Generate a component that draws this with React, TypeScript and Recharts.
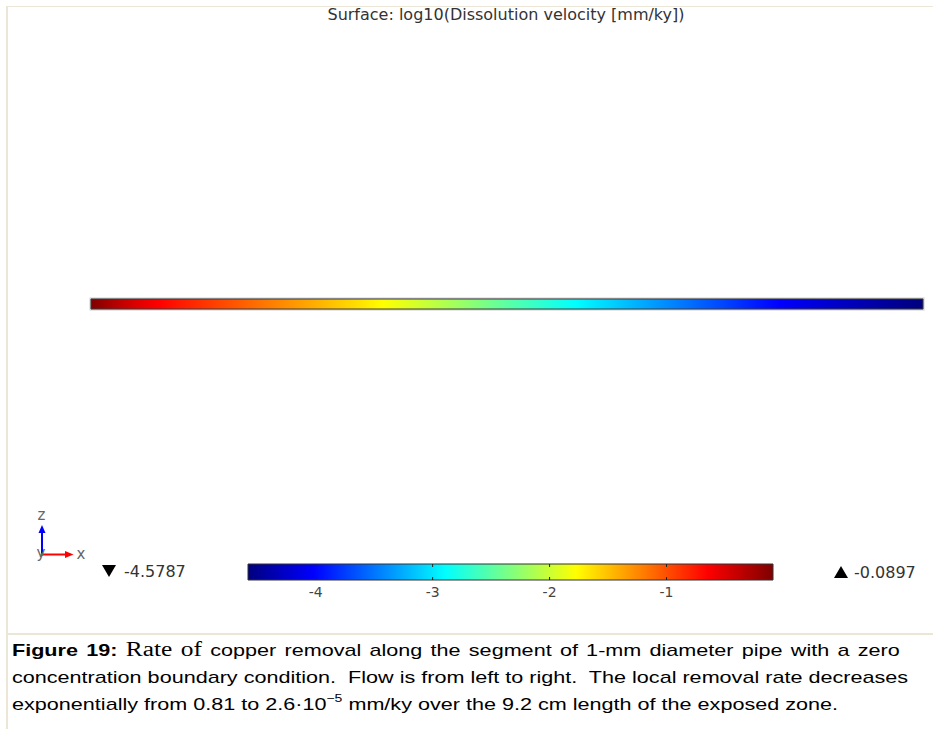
import React from 'react';
import { ComposedChart, Area, XAxis, YAxis, ReferenceArea, ReferenceLine } from 'recharts';

// position along the pipe [cm] and log10 of dissolution velocity [mm/ky]
const pipePos = [0, 0.25, 0.5, 0.75, 1, 1.5, 2, 2.5, 3, 3.5, 4, 4.5, 5, 5.5, 6, 6.5, 7, 7.5, 8, 8.5, 9, 9.2];
const pipeLogRate = [-0.0897, -0.31, -0.5, -0.65, -0.77, -0.99, -1.21, -1.43, -1.66, -1.91, -2.17, -2.44, -2.7, -2.97, -3.22, -3.47, -3.72, -3.97, -4.17, -4.35, -4.52, -4.5787];

// colour legend
const rangeMin = -4.5787;
const rangeMax = -0.0897;
const legendTicks = [-4, -3, -2, -1];

// jet colour table
const jetPos = [0, 0.125, 0.375, 0.625, 0.875, 1];
const jetColors = ['#00007f', '#0000ff', '#00ffff', '#ffff00', '#ff0000', '#7f0000'];

const titleText = 'Surface: log10(Dissolution velocity [mm/ky])';

const hexToRgb = (h: string) => [1, 3, 5].map((i) => parseInt(h.slice(i, i + 2), 16));

function jet(t: number) {
  const c = Math.max(0, Math.min(1, t));
  for (let i = 1; i < jetPos.length; i++) {
    if (c <= jetPos[i]) {
      const f = (c - jetPos[i - 1]) / (jetPos[i] - jetPos[i - 1]);
      const a = hexToRgb(jetColors[i - 1]);
      const b = hexToRgb(jetColors[i]);
      const rgb = a.map((v, k) => Math.round(v + (b[k] - v) * f));
      return `rgb(${rgb.join(',')})`;
    }
  }
  return jetColors[jetColors.length - 1];
}

const toT = (v: number) => (v - rangeMin) / (rangeMax - rangeMin);
const pipeLength = pipePos[pipePos.length - 1];

// gradient stops along the pipe: one per sample, plus one where each jet knee is crossed
function pipeStops() {
  const stops = pipePos.map((x, i) => ({ offset: x / pipeLength, color: jet(toT(pipeLogRate[i])) }));
  jetPos.forEach((t) => {
    const v = rangeMin + t * (rangeMax - rangeMin);
    for (let i = 1; i < pipePos.length; i++) {
      const a = pipeLogRate[i - 1];
      const b = pipeLogRate[i];
      if (v <= a && v > b) {
        const x = pipePos[i - 1] + ((a - v) / (a - b)) * (pipePos[i] - pipePos[i - 1]);
        stops.push({ offset: x / pipeLength, color: jet(t) });
      }
    }
  });
  return stops.sort((p, q) => p.offset - q.offset);
}

const pipeData = pipePos.map((x, i) => ({ x, v: pipeLogRate[i], band: [0, 1] }));
const legendData = [rangeMin, rangeMax].map((v) => ({ v, band: [0, 1] }));

const font = '"DejaVu Sans", sans-serif';

function Triad() {
  return (
    <g>
      <line x1={42} y1={555} x2={42} y2={532} stroke="#0000ff" strokeWidth={2} />
      <polygon points="38.5,533 45.5,533 42,525" fill="#0000ff" />
      <line x1={42} y1={554.5} x2={66} y2={554.5} stroke="#ff0000" strokeWidth={2} />
      <polygon points="65,551 65,558 73.5,554.5" fill="#ff0000" />
      <circle cx={42} cy={554.5} r={1.5} fill="#22aa22" />
      <text x={41.5} y={520} textAnchor="middle" fontSize={15} fill="#666" fontFamily={font}>z</text>
      <text x={41} y={558} textAnchor="middle" fontSize={15} fill="#666" fontFamily={font}>y</text>
      <text x={81} y={559} textAnchor="middle" fontSize={15} fill="#666" fontFamily={font}>x</text>
    </g>
  );
}

export default function App() {
  const stops = pipeStops();
  return (
    <div style={{ position: 'absolute', left: 0, top: 0, width: 933, height: 729, background: '#fff', overflow: 'hidden' }}>
      <svg width={933} height={729} style={{ position: 'absolute', left: 0, top: 0 }}>
        <rect x={7} y={6} width={926} height={1} fill="#ebe6d6" />
        <rect x={6} y={6} width={2} height={723} fill="#ebe6d6" />
        <rect x={6} y={633} width={927} height={2} fill="#ebe6d6" />
        <text x={506} y={20} textAnchor="middle" fontSize={16} fill="#333" fontFamily={font}>{titleText}</text>
        <Triad />
        <polygon points="102,565 116,565 109,577" fill="#000" />
        <text x={124} y={577} fontSize={16} fill="#333" fontFamily={font}>{rangeMin.toFixed(4)}</text>
        <polygon points="834,578 848,578 841,566" fill="#000" />
        <text x={854} y={578} fontSize={16} fill="#333" fontFamily={font}>{rangeMax.toFixed(4)}</text>
      </svg>

      <div style={{ position: 'absolute', left: 0, top: 285 }}>
        <ComposedChart width={933} height={40} data={pipeData} margin={{ top: 14, right: 10, bottom: 16, left: 91 }}>
          <defs>
            <linearGradient id="pipeGrad" x1="0" y1="0" x2="1" y2="0">
              {stops.map((s, i) => (
                <stop key={i} offset={s.offset} stopColor={s.color} />
              ))}
            </linearGradient>
          </defs>
          <XAxis hide type="number" dataKey="x" domain={[0, pipeLength]} />
          <YAxis hide type="number" domain={[0, 1]} />
          <ReferenceArea x1={0} x2={pipeLength} y1={0} y2={1} fill="none" stroke="#cfcfcf" strokeWidth={3} />
          <Area type="linear" dataKey="band" fill="url(#pipeGrad)" fillOpacity={1} stroke="none" dot={false} activeDot={false} isAnimationActive={false} />
          <ReferenceArea x1={0} x2={pipeLength} y1={0} y2={1} fill="none" stroke="#3a3a3a" strokeWidth={1} />
        </ComposedChart>
      </div>

      <div style={{ position: 'absolute', left: 0, top: 555 }}>
        <ComposedChart width={933} height={60} data={legendData} margin={{ top: 9, right: 160, bottom: 0, left: 248 }}>
          <defs>
            <linearGradient id="legendGrad" x1="0" y1="0" x2="1" y2="0">
              {jetPos.map((p, i) => (
                <stop key={i} offset={p} stopColor={jetColors[i]} />
              ))}
            </linearGradient>
          </defs>
          <XAxis
            type="number"
            dataKey="v"
            domain={[rangeMin, rangeMax]}
            ticks={legendTicks}
            height={35}
            axisLine={false}
            tickLine={false}
            tickMargin={1}
            tick={{ fontSize: 14, fill: '#444', fontFamily: font }}
          />
          <YAxis hide type="number" domain={[0, 1]} />
          <Area type="linear" dataKey="band" fill="url(#legendGrad)" fillOpacity={1} stroke="none" dot={false} activeDot={false} isAnimationActive={false} />
          {legendTicks.map((t) => (
            <ReferenceLine key={t} x={t} stroke="#222" strokeDasharray="3 10 3" />
          ))}
          <ReferenceArea x1={rangeMin} x2={rangeMax} y1={0} y2={1} fill="none" stroke="#333" strokeWidth={1} />
        </ComposedChart>
      </div>

      <div
        style={{
          position: 'absolute',
          left: 12,
          top: 636,
          fontFamily: '"Liberation Sans", Arial, sans-serif',
          fontSize: 17,
          lineHeight: '27px',
          color: '#000',
          whiteSpace: 'nowrap',
          transform: 'scaleX(1.27)',
          transformOrigin: '0 0',
        }}
      >
        <div style={{ width: 699, whiteSpace: 'normal', textAlign: 'justify', textAlignLast: 'justify' }}>
          <b>Figure 19:</b>{' '}
          <span style={{ fontFamily: '"Liberation Serif", "Times New Roman", serif', fontSize: 20 }}>Rate of</span> copper removal along the segment of 1-mm diameter pipe with a zero
        </div>
        <div>concentration boundary condition.&nbsp; Flow is from left to right.&nbsp; The local removal rate decreases</div>
        <div>
          exponentially from 0.81 to 2.6·10
          <span style={{ fontSize: 11, position: 'relative', top: -8 }}>−5</span> mm/ky over the 9.2 cm length of the exposed zone.
        </div>
      </div>
    </div>
  );
}
